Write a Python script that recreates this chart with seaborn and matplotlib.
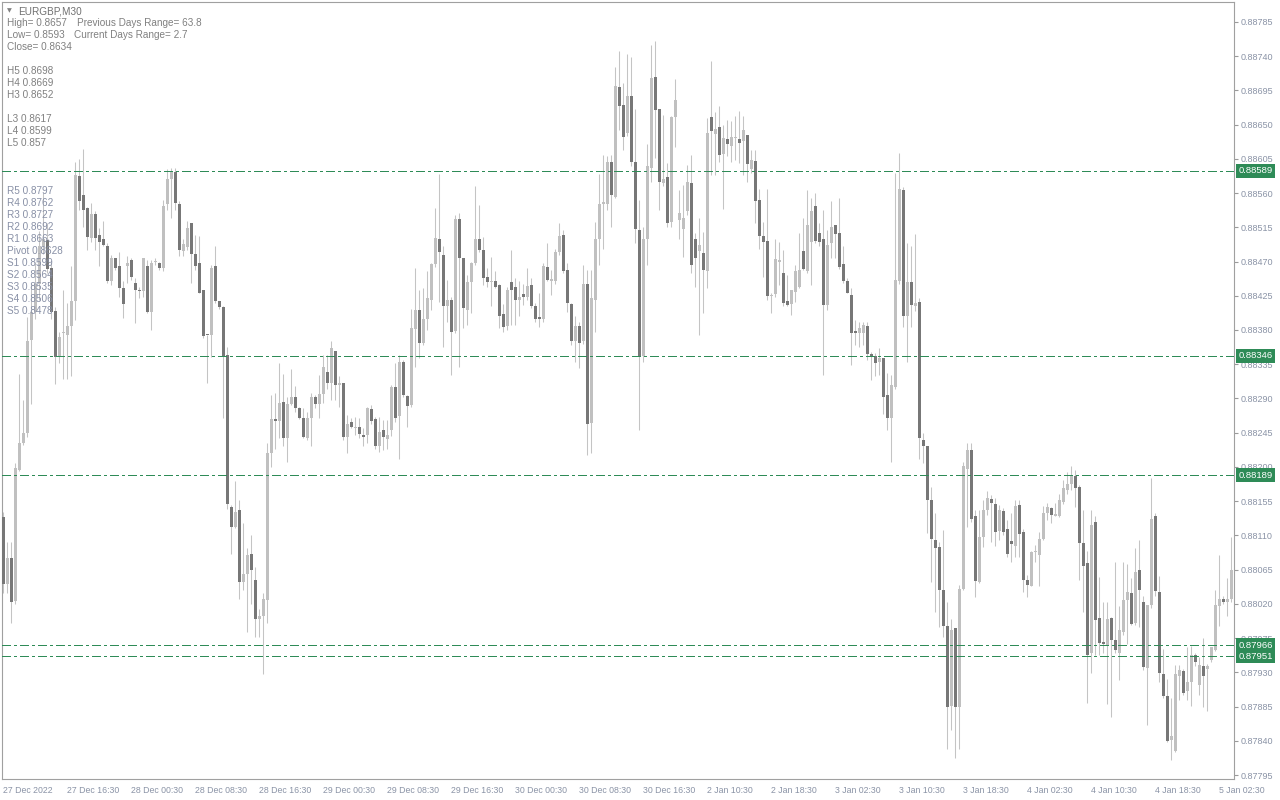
import numpy as np
import pandas as pd
import matplotlib
matplotlib.use("Agg")
import matplotlib.pyplot as plt
import seaborn as sns

# EURGBP M30 candles, prices in points (1e-5)
opens = [
    88134, 88046, 88081, 88024, 88196, 88231, 88245, 88367, 88404, 88440,
    88490, 88498, 88461, 88405, 88345, 88376, 88374, 88385, 88418, 88583,
    88557, 88540, 88501, 88532, 88505, 88499, 88491, 88445, 88474, 88464,
    88435, 88464, 88472, 88442, 88432, 88431, 88464, 88404, 88469, 88468,
    88461, 88546, 88578, 88587, 88546, 88484, 88489, 88520, 88480, 88468,
    88432, 88374, 88374, 88464, 88418, 88410, 88347, 88148, 88121, 88143,
    88049, 88060, 88086, 88051, 88000, 88004, 88025, 88218, 88263, 88261,
    88285, 88238, 88283, 88292, 88277, 88265, 88238, 88265, 88292, 88283,
    88296, 88325, 88310, 88352, 88308, 88310, 88239, 88259, 88251, 88252,
    88242, 88242, 88276, 88263, 88227, 88249, 88237, 88248, 88305, 88267,
    88338, 88293, 88281, 88381, 88406, 88363, 88395, 88420, 88467, 88500,
    88479, 88412, 88419, 88379, 88526, 88475, 88406, 88443, 88468, 88500,
    88485, 88449, 88443, 88444, 88439, 88401, 88385, 88443, 88436, 88420,
    88427, 88424, 88439, 88412, 88397, 88394, 88463, 88445, 88444, 88482,
    88505, 88459, 88414, 88365, 88385, 88365, 88441, 88258, 88420, 88500,
    88546, 88546, 88601, 88555, 88699, 88676, 88639, 88687, 88601, 88511,
    88346, 88499, 88593, 88713, 88671, 88573, 88581, 88522, 88660, 88524,
    88513, 88537, 88573, 88500, 88484, 88481, 88458, 88660, 88637, 88647,
    88611, 88631, 88622, 88632, 88631, 88628, 88636, 88591, 88602, 88551,
    88503, 88497, 88425, 88427, 88469, 88455, 88418, 88414, 88430, 88437,
    88484, 88458, 88496, 88543, 88508, 88500, 88413, 88494, 88518, 88508,
    88467, 88444, 88426, 88379, 88376, 88376, 88385, 88348, 88346, 88338,
    88343, 88295, 88265, 88305, 88444, 88564, 88398, 88443, 88411, 88417,
    88236, 88228, 88157, 88104, 88095, 88038, 87991, 87886, 87989, 87884,
    88040, 88197, 88222, 88135, 88049, 88108, 88143, 88158, 88152, 88116,
    88142, 88118, 88103, 88096, 88150, 88114, 88051, 88044, 88088, 88084,
    88106, 88139, 88146, 88136, 88136, 88154, 88170, 88178, 88188, 88174,
    88100, 88074, 87955, 88128, 88001, 87970, 87966, 88002, 87972, 87956,
    87983, 88025, 88034, 87995, 88064, 88023, 87936, 88018, 88135, 88036,
    87928, 87899, 87841, 87827, 87926, 87932, 87905, 87918, 87953, 87913,
    87938, 87935, 87946, 87960, 88017, 88027, 88022, 88027,
]
highs = [
    88141, 88102, 88102, 88205, 88322, 88288, 88397, 88440, 88470, 88510,
    88560, 88520, 88470, 88410, 88378, 88433, 88415, 88464, 88601, 88605,
    88618, 88542, 88547, 88536, 88514, 88523, 88494, 88479, 88475, 88483,
    88444, 88477, 88474, 88448, 88437, 88475, 88472, 88472, 88475, 88469,
    88551, 88591, 88593, 88593, 88549, 88499, 88523, 88521, 88505, 88503,
    88433, 88374, 88466, 88490, 88418, 88411, 88358, 88150, 88181, 88156,
    88127, 88093, 88110, 88068, 88014, 88034, 88232, 88295, 88297, 88336,
    88322, 88292, 88329, 88306, 88279, 88277, 88272, 88297, 88295, 88321,
    88347, 88347, 88365, 88352, 88319, 88311, 88268, 88264, 88266, 88265,
    88251, 88279, 88281, 88266, 88266, 88262, 88262, 88308, 88336, 88347,
    88340, 88295, 88408, 88461, 88433, 88435, 88457, 88468, 88540, 88585,
    88490, 88446, 88424, 88531, 88534, 88475, 88452, 88470, 88569, 88544,
    88502, 88461, 88476, 88458, 88441, 88414, 88437, 88485, 88448, 88444,
    88441, 88461, 88448, 88415, 88428, 88468, 88494, 88459, 88487, 88520,
    88512, 88468, 88415, 88398, 88390, 88465, 88459, 88459, 88522, 88585,
    88610, 88609, 88610, 88726, 88746, 88705, 88743, 88739, 88670, 88551,
    88516, 88625, 88755, 88760, 88671, 88663, 88599, 88661, 88710, 88564,
    88571, 88597, 88610, 88507, 88527, 88509, 88658, 88733, 88667, 88674,
    88649, 88656, 88655, 88661, 88668, 88661, 88636, 88617, 88616, 88565,
    88522, 88565, 88428, 88500, 88496, 88485, 88452, 88433, 88466, 88507,
    88527, 88564, 88553, 88560, 88521, 88538, 88512, 88549, 88518, 88553,
    88490, 88448, 88435, 88393, 88390, 88391, 88391, 88351, 88350, 88356,
    88343, 88323, 88321, 88586, 88612, 88568, 88494, 88490, 88506, 88422,
    88244, 88228, 88174, 88140, 88102, 88117, 88023, 88000, 87989, 88045,
    88207, 88231, 88232, 88143, 88144, 88157, 88169, 88163, 88159, 88150,
    88146, 88130, 88139, 88157, 88157, 88119, 88058, 88089, 88097, 88115,
    88149, 88153, 88148, 88153, 88165, 88183, 88194, 88201, 88196, 88176,
    88143, 88089, 88143, 88135, 88056, 88023, 88023, 88003, 88075, 88017,
    88075, 88073, 88054, 88093, 88104, 88030, 88018, 88186, 88140, 88057,
    87961, 87922, 87896, 87940, 87940, 87935, 87964, 87965, 87956, 87950,
    87975, 87941, 87964, 88038, 88084, 88030, 88054, 88108,
]
lows = [
    88034, 88034, 87995, 88020, 88195, 88229, 88240, 88283, 88395, 88420,
    88480, 88455, 88395, 88309, 88336, 88315, 88315, 88319, 88393, 88538,
    88516, 88485, 88496, 88485, 88464, 88490, 88442, 88439, 88459, 88424,
    88396, 88442, 88446, 88389, 88422, 88424, 88402, 88380, 88466, 88459,
    88457, 88538, 88527, 88538, 88477, 88477, 88485, 88442, 88459, 88428,
    88369, 88310, 88345, 88415, 88407, 88264, 88145, 88086, 88120, 88027,
    88039, 87983, 88020, 87977, 87977, 87928, 87995, 88200, 88224, 88238,
    88227, 88206, 88281, 88272, 88263, 88238, 88236, 88227, 88277, 88264,
    88284, 88303, 88288, 88288, 88279, 88235, 88218, 88251, 88242, 88238,
    88227, 88231, 88257, 88224, 88220, 88222, 88223, 88241, 88259, 88211,
    88292, 88253, 88279, 88332, 88343, 88360, 88380, 88406, 88463, 88417,
    88358, 88390, 88321, 88376, 88331, 88382, 88387, 88402, 88465, 88483,
    88439, 88437, 88411, 88435, 88382, 88378, 88380, 88387, 88387, 88398,
    88413, 88419, 88409, 88391, 88384, 88390, 88444, 88426, 88441, 88479,
    88455, 88404, 88360, 88338, 88330, 88362, 88216, 88219, 88378, 88465,
    88487, 88538, 88516, 88553, 88643, 88617, 88635, 88595, 88494, 88249,
    88338, 88465, 88574, 88606, 88538, 88569, 88516, 88516, 88621, 88500,
    88476, 88531, 88455, 88437, 88373, 88402, 88435, 88584, 88584, 88601,
    88539, 88608, 88601, 88604, 88599, 88584, 88574, 88586, 88521, 88487,
    88450, 88419, 88402, 88424, 88439, 88411, 88411, 88400, 88417, 88435,
    88459, 88455, 88439, 88494, 88490, 88321, 88406, 88474, 88474, 88460,
    88442, 88428, 88334, 88360, 88358, 88360, 88341, 88314, 88319, 88321,
    88270, 88249, 88207, 88303, 88441, 88384, 88338, 88384, 88405, 88211,
    88205, 88113, 88049, 88010, 87990, 87977, 87830, 87854, 87817, 87830,
    88038, 88121, 88128, 88029, 88047, 88095, 88137, 88102, 88096, 88104,
    88110, 88082, 88075, 88082, 88082, 88036, 88029, 88043, 88075, 88043,
    88104, 88130, 88126, 88135, 88134, 88152, 88165, 88170, 88147, 88051,
    88010, 87890, 87929, 87953, 87953, 87955, 87889, 87872, 87955, 87920,
    87979, 87968, 87992, 87993, 87990, 87933, 87861, 88015, 88030, 87918,
    87897, 87839, 87815, 87826, 87894, 87900, 87894, 87886, 87938, 87900,
    87885, 87880, 87944, 87958, 87991, 88020, 88004, 88023,
]
closes = [
    88046, 88081, 88023, 88199, 88232, 88245, 88365, 88404, 88440, 88490,
    88500, 88460, 88404, 88345, 88371, 88378, 88385, 88418, 88584, 88549,
    88538, 88502, 88532, 88501, 88496, 88492, 88445, 88475, 88461, 88435,
    88414, 88468, 88449, 88433, 88431, 88474, 88403, 88468, 88471, 88461,
    88543, 88578, 88589, 88547, 88485, 88493, 88514, 88480, 88464, 88429,
    88372, 88373, 88462, 88418, 88410, 88345, 88151, 88121, 88141, 88049,
    88060, 88084, 88065, 88000, 88004, 88026, 88218, 88263, 88261, 88284,
    88238, 88283, 88292, 88277, 88264, 88239, 88265, 88292, 88283, 88296,
    88332, 88311, 88356, 88308, 88311, 88239, 88256, 88252, 88252, 88243,
    88240, 88277, 88261, 88227, 88246, 88239, 88242, 88305, 88264, 88338,
    88295, 88280, 88382, 88406, 88363, 88395, 88422, 88467, 88501, 88483,
    88412, 88419, 88378, 88526, 88475, 88409, 88443, 88468, 88499, 88485,
    88448, 88443, 88444, 88437, 88398, 88384, 88433, 88433, 88420, 88424,
    88424, 88438, 88411, 88394, 88395, 88464, 88446, 88446, 88482, 88504,
    88457, 88416, 88366, 88385, 88363, 88440, 88257, 88422, 88500, 88546,
    88548, 88601, 88557, 88701, 88674, 88634, 88688, 88601, 88513, 88346,
    88500, 88596, 88711, 88669, 88574, 88578, 88521, 88660, 88682, 88534,
    88527, 88574, 88465, 88475, 88492, 88459, 88639, 88641, 88644, 88610,
    88632, 88625, 88634, 88632, 88626, 88643, 88598, 88603, 88550, 88503,
    88496, 88425, 88426, 88473, 88472, 88416, 88413, 88432, 88457, 88459,
    88460, 88518, 88536, 88497, 88496, 88413, 88492, 88516, 88506, 88463,
    88445, 88429, 88376, 88376, 88382, 88387, 88349, 88344, 88337, 88343,
    88292, 88264, 88308, 88446, 88565, 88398, 88443, 88413, 88416, 88238,
    88227, 88156, 88105, 88093, 88038, 87991, 87885, 87986, 87885, 88040,
    88201, 88222, 88132, 88050, 88108, 88143, 88159, 88153, 88115, 88143,
    88114, 88086, 88099, 88149, 88112, 88051, 88045, 88088, 88089, 88106,
    88139, 88147, 88137, 88138, 88157, 88172, 88178, 88189, 88172, 88100,
    88070, 87953, 88124, 87999, 87969, 87967, 88000, 87973, 87960, 87986,
    88025, 88036, 87994, 88062, 88038, 87937, 88018, 88132, 88037, 87929,
    87899, 87840, 87847, 87928, 87933, 87903, 87918, 87953, 87944, 87940,
    87926, 87939, 87963, 88018, 88026, 88023, 88027, 88064,
]

# horizontal levels drawn on the chart
levels = [0.88589, 0.88346, 0.88189, 0.87966, 0.87951]

price_ticks = [0.87795 + 0.00045 * k for k in range(23)]
time_labels = [
    "27 Dec 2022", "27 Dec 16:30", "28 Dec 00:30", "28 Dec 08:30", "28 Dec 16:30",
    "29 Dec 00:30", "29 Dec 08:30", "29 Dec 16:30", "30 Dec 00:30", "30 Dec 08:30",
    "30 Dec 16:30", "2 Jan 10:30", "2 Jan 18:30", "3 Jan 02:30", "3 Jan 10:30",
    "3 Jan 18:30", "4 Jan 02:30", "4 Jan 10:30", "4 Jan 18:30", "5 Jan 02:30",
]

info_lines = [
    ("High= 0.8657", 7, 23), ("Previous Days Range= 63.8", 77, 23),
    ("Low= 0.8593", 7, 35), ("Current Days Range= 2.7", 74, 35),
    ("Close= 0.8634", 7, 47),
    ("H5 0.8698", 7, 71), ("H4 0.8669", 7, 83), ("H3 0.8652", 7, 95),
    ("L3 0.8617", 7, 119), ("L4 0.8599", 7, 131), ("L5 0.857", 7, 143),
]
pivot_lines = [
    "R5 0.8797", "R4 0.8762", "R3 0.8727", "R2 0.8692", "R1 0.8663",
    "Pivot 0.8628", "S1 0.8599", "S2 0.8564", "S3 0.8535", "S4 0.8506", "S5 0.8478",
]

assert len(opens) == len(highs) == len(lows) == len(closes)

sns.set_style("white")
plt.rcParams['font.family'] = ['Liberation Sans', 'DejaVu Sans']

df = pd.DataFrame({'open': opens, 'high': highs, 'low': lows, 'close': closes}) / 1e5
df['bar'] = np.arange(len(df))
df['up'] = df['close'] >= df['open']

fig = plt.figure(figsize=(12.8, 8), dpi=100)
ax = fig.add_axes([2 / 1280, 21 / 800, 1232 / 1280, 777 / 800])

# wicks then bodies
ax.vlines(df['bar'], df['low'], df['high'], color='#c4c4c4', lw=0.75, zorder=2)
body = (df['close'] - df['open']).abs().clip(lower=0.000014)
bottom = df[['open', 'close']].min(axis=1)
colors = np.where(df['up'], '#c0c0c0', '#777777')
ax.bar(df['bar'], body, bottom=bottom, width=0.75, color=colors, linewidth=0, zorder=3)

for lv in levels:
    ax.axhline(lv, color='#2e8b57', lw=0.75, ls=(0, (8, 3, 2, 3)), zorder=4,
               antialiased=False)
    ax.annotate(f"{lv:.5f}", xy=(1, lv), xycoords=('axes fraction', 'data'),
                xytext=(3, 0), textcoords='offset points', ha='left', va='center',
                fontsize=6.8, color='white', annotation_clip=False, zorder=6,
                bbox=dict(boxstyle='square,pad=0.25', fc='#2e8b57', ec='none'))

ax.set_xlim(-0.25, len(df) - 0.25)
ax.set_ylim(0.87790, 0.88811)

ax.yaxis.tick_right()
ax.set_yticks(price_ticks)
ax.set_yticklabels([f"{t:.5f}" for t in price_ticks])
ax.tick_params(axis='y', direction='out', length=3, width=0.8, color='#9a9a9a',
               labelcolor='#8a93a6', labelsize=6.5, pad=2)

ax.set_xticks(np.arange(0, len(df), 16)[:len(time_labels)])
ax.set_xticklabels(time_labels)
ax.tick_params(axis='x', direction='out', length=4, width=0.8, color='#9a9a9a',
               labelcolor='#8a93a6', labelsize=6.3, pad=1)
for lab in ax.get_xticklabels():
    lab.set_ha('left')

for s in ax.spines.values():
    s.set_color('#a0a0a0')
    s.set_linewidth(0.8)
ax.grid(False)

# overlay text in the top-left corner
fig.text(7 / 1280, 1 - 11 / 800, "▼", fontsize=4.5, color='#808080', va='center',
         family=['DejaVu Sans'])
fig.text(18 / 1280, 1 - 11 / 800, "EURGBP,M30", fontsize=7.2, color='#707070', va='center')
for s, x, y in info_lines:
    fig.text(x / 1280, 1 - y / 800, s, fontsize=7.2, color='#808080', va='center')
for k, s in enumerate(pivot_lines):
    fig.text(7 / 1280, 1 - (191 + 12 * k) / 800, s, fontsize=7.2, color='#8890a6', va='center')

fig.savefig("out.png", dpi=100)
